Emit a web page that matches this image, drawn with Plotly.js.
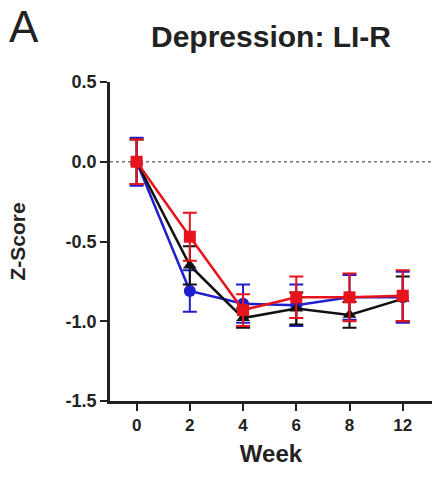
<!DOCTYPE html>
<html><head><meta charset="utf-8">
<script src="https://cdn.plot.ly/plotly-3.0.1.min.js"></script>
<style>html,body{margin:0;padding:0;background:#fff}#c{width:432px;height:480px}</style>
</head><body><div id="c"></div>
<script>
const weeks = ['0','2','4','6','8','12'];
const blackVals = [0, -0.65, -0.98, -0.92, -0.96, -0.86];
const blackErr  = [0.14, 0.12, 0.06, 0.10, 0.08, 0.14];
const blueVals  = [0, -0.81, -0.89, -0.90, -0.85, -0.85];
const blueErr   = [0.15, 0.13, 0.12, 0.13, 0.14, 0.16];
const redVals   = [0, -0.47, -0.93, -0.85, -0.85, -0.84];
const redErr    = [0.14, 0.15, 0.10, 0.13, 0.15, 0.16];

function tr(y, e, color, symbol, size){
  return {x: weeks, y: y, type:'scatter', mode:'lines+markers',
    line:{color:color, width:2.5},
    marker:{color:color, symbol:symbol, size:size},
    error_y:{type:'data', array:e, visible:true, color:color, thickness:2, width:7},
    showlegend:false, cliponaxis:false};
}
const data = [
  tr(blueVals, blueErr, '#1f1fd0', 'circle', 12),
  tr(blackVals, blackErr, '#111111', 'triangle-up', 12),
  tr(redVals, redErr, '#e8141c', 'square', 12)
];
const layout = {
  width:432, height:480,
  margin:{l:110, r:0, t:82, b:79},
  paper_bgcolor:'#fff', plot_bgcolor:'#fff',
  font:{family:'Liberation Sans, Arial, sans-serif', color:'#222'},
  xaxis:{type:'category', range:[-0.5,5.55], showgrid:false, zeroline:false,
    showline:true, linecolor:'#222', linewidth:2.5, ticks:'outside', ticklen:7, tickwidth:2, tickcolor:'#222',
    tickfont:{size:17, weight:'bold'},
    title:{text:'<b>Week</b>', font:{size:24}, standoff:12}},
  yaxis:{range:[-1.5,0.5], tickvals:[0.5,0,-0.5,-1,-1.5], ticktext:['0.5','0.0','-0.5','-1.0','-1.5'],
    showgrid:false, zeroline:false, showline:true, linecolor:'#222', linewidth:2.5,
    ticks:'outside', ticklen:7, tickwidth:2, tickcolor:'#222',
    tickfont:{size:18, weight:'bold'},
    title:{text:'<b>Z-Score</b>', font:{size:21}, standoff:35}},
  shapes:[{type:'line', xref:'paper', x0:0, x1:1, yref:'y', y0:0, y1:0,
    line:{color:'#777', width:1.5, dash:'dot'}, layer:'below'}],
  annotations:[
    {text:'<b>Depression: LI-R</b>', xref:'paper', yref:'paper', x:0.5, y:1.144, xanchor:'center', yanchor:'middle', showarrow:false, font:{size:30, color:'#222'}},
    {text:'A', xref:'paper', yref:'paper', x:-0.32, y:1.175, xanchor:'left', yanchor:'middle', showarrow:false, font:{size:44, color:'#222'}}
  ]
};
Plotly.newPlot('c', data, layout, {displayModeBar:false});
</script></body></html>
